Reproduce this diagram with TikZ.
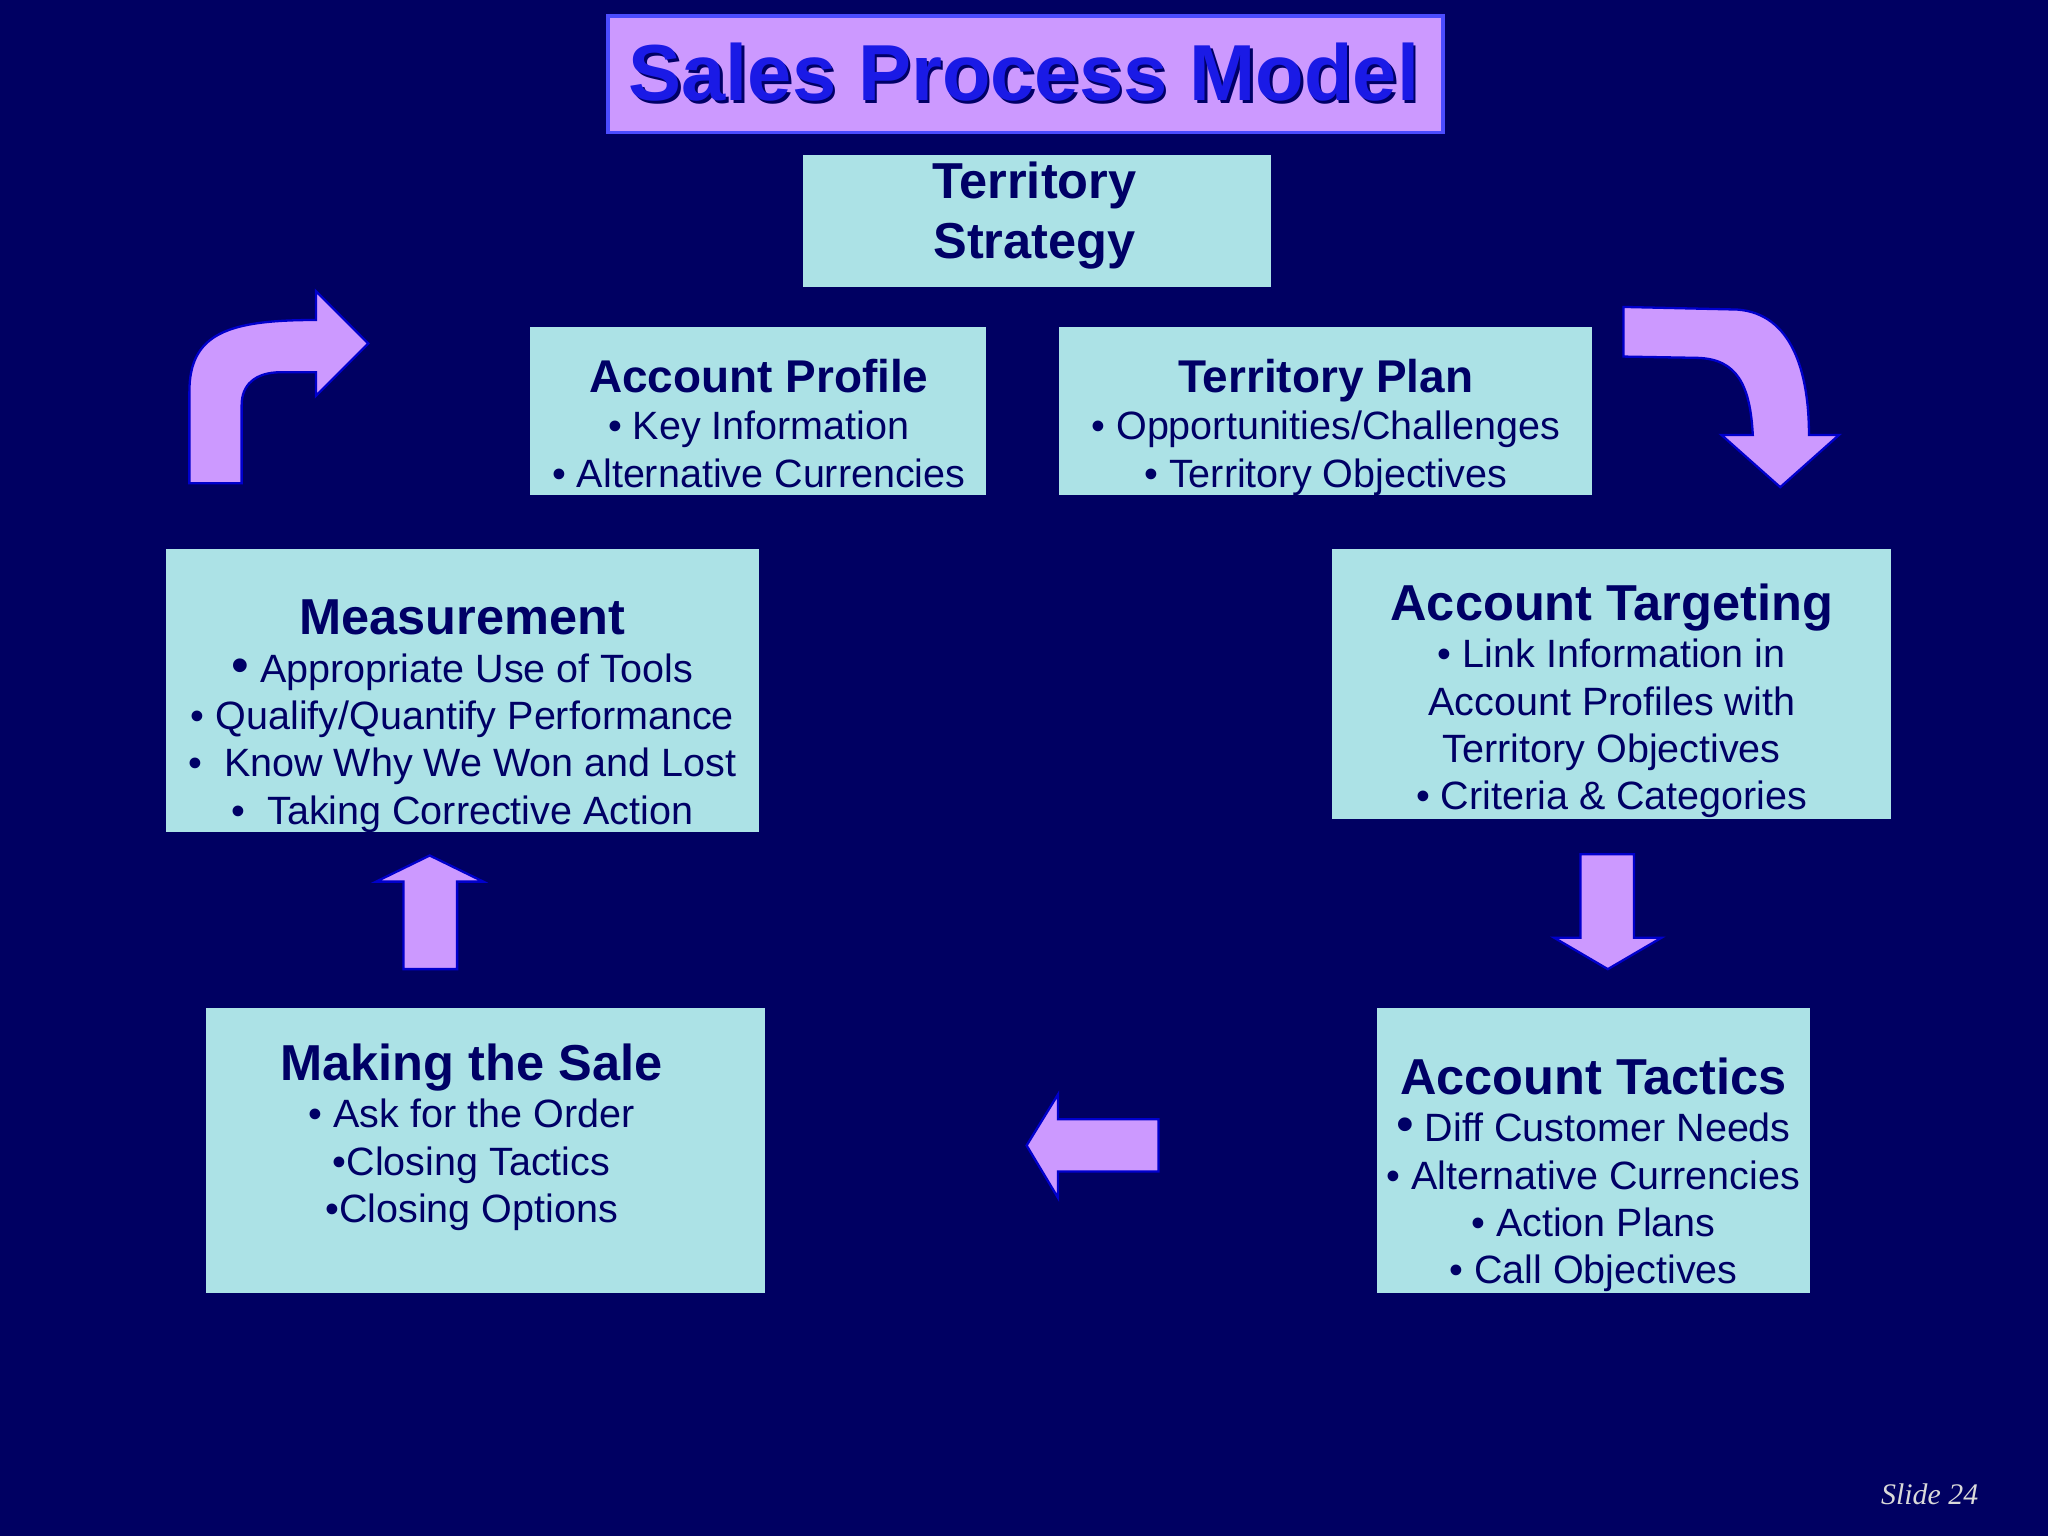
\documentclass[tikz,border=0pt]{standalone}
\usepackage{fontspec}
\setmainfont{Liberation Sans}
\newfontfamily\slidefont{Liberation Serif}
\definecolor{bg}{RGB}{0,0,98}
\definecolor{boxfill}{RGB}{172,226,230}
\definecolor{ink}{RGB}{0,0,102}
\definecolor{lilac}{RGB}{204,153,255}
\definecolor{tblue}{RGB}{26,26,230}
\tikzset{
  box/.style={draw=none,fill=boxfill},
  txt/.style={anchor=base,align=center,text=ink,inner sep=0pt,font=\fontsize{8.6}{10.3}\selectfont},
  arr/.style={fill=lilac,draw=blue!80!black,line width=0.5pt,line join=miter}
}
\begin{document}
\begin{tikzpicture}[x=0.01cm,y=-0.01cm]
\fill[bg] (0,0) rectangle (1568,1176);
\useasboundingbox (0,0) rectangle (1568,1176);
% title
\node[draw=blue!70!white,line width=0.8pt,fill=lilac,minimum width=6.39cm,minimum height=0.89cm,anchor=north west] (title) at (464,11) {};
\node[anchor=base,text=black!60!blue,font=\fontsize{17.3}{19}\selectfont\bfseries] (tshadow) at (786,79) {Sales Process Model};
\node[anchor=base,text=tblue,font=\fontsize{17.3}{19}\selectfont\bfseries] (ttext) at (784,77) {Sales Process Model};
% boxes
\fill[box] (615,119) rectangle (973,220);
\fill[box] (406,250) rectangle (755,379);
\fill[box] (811,250) rectangle (1219,379);
\fill[box] (127,420) rectangle (581,637);
\fill[box] (1020,420) rectangle (1448,627);
\fill[box] (158,772) rectangle (586,990);
\fill[box] (1054,772) rectangle (1386,990);
% texts (anchor=base is the last line's baseline)
\node[txt,font=\fontsize{11}{13}\selectfont\bfseries] (ts) at (792,198) {Territory\\Strategy};
\node[txt] (ap) at (581,373) {{\fontsize{10}{10.3}\selectfont\bfseries Account Profile}\\• Key Information\\• Alternative Currencies};
\node[txt] (tp) at (1015,373) {{\fontsize{10}{10.3}\selectfont\bfseries Territory Plan}\\• Opportunities/Challenges\\• Territory Objectives};
\node[txt] (ms) at (354,631) {{\fontsize{11}{13.3}\selectfont\bfseries Measurement}\\{\fontsize{11}{10.8}\selectfont •} Appropriate Use of Tools\\• Qualify/Quantify Performance\\•\ \ Know Why We Won and Lost\\•\ \ Taking Corrective Action};
\node[txt] (at) at (1234,620) {{\fontsize{11}{10.5}\selectfont\bfseries Account Targeting}\\• Link Information in\\Account Profiles with\\Territory Objectives\\• Criteria \& Categories};
\node[txt] (mk) at (361,936) {{\fontsize{11}{10.5}\selectfont\bfseries Making the Sale}\\• Ask for the Order\\•Closing Tactics\\•Closing Options};
\node[txt] (tc) at (1220,983) {{\fontsize{11}{13}\selectfont\bfseries Account Tactics}\\{\fontsize{11}{10.8}\selectfont •} Diff Customer Needs\\• Alternative Currencies\\• Action Plans\\• Call Objectives};
% arrows
\draw[arr] (145,370) -- (145,300) .. controls (145,255) and (175,245) .. (242,245) -- (242,223) -- (282,263) -- (242,303) -- (242,285) -- (215,285) .. controls (195,285) and (185,295) .. (185,310) -- (185,370) -- cycle;
\draw[arr] (1243,235) -- (1330,237) .. controls (1372,240) and (1385,285) .. (1385,333) -- (1408,333) -- (1363,373) -- (1318,333) -- (1342,333) .. controls (1340,295) and (1330,275) .. (1300,274) -- (1243,273) -- cycle;
\draw[arr] (309,742) -- (309,675) -- (288,675) -- (329,655) -- (370,675) -- (350,675) -- (350,742) -- cycle;
\draw[arr] (1210,654) -- (1251,654) -- (1251,718) -- (1272,718) -- (1231,742) -- (1190,718) -- (1210,718) -- cycle;
\draw[arr] (887,857) -- (887,897) -- (810,897) -- (810,917) -- (786,877) -- (810,838) -- (810,857) -- cycle;
\node[anchor=base east,text=black!15,font=\slidefont\itshape\fontsize{6.5}{8}\selectfont] (sl) at (1527,1152) {Slide 24};
\end{tikzpicture}
\end{document}
